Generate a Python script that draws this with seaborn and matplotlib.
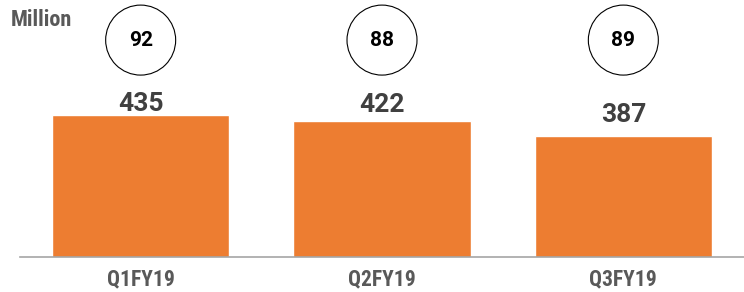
import numpy as np
import pandas as pd
import matplotlib
matplotlib.use('Agg')
import matplotlib.pyplot as plt
import matplotlib.transforms as mtransforms
import seaborn as sns

# ── DATA ──────────────────────────────────────────────
quarters = ['Q1FY19', 'Q2FY19', 'Q3FY19']
revenue = [435, 422, 387]
circle_vals = [92, 88, 89]

sns.set_style('white')
plt.rcParams['font.family'] = ['Roboto Condensed', 'Roboto', 'DejaVu Sans']

df = pd.DataFrame({'quarter': quarters, 'value': revenue})

fig = plt.figure(figsize=(7.44, 2.92), dpi=100)
ax = fig.add_axes([20 / 744, 35 / 292, 724 / 744, 257 / 292])

sns.barplot(data=df, x='quarter', y='value', color='#ED7D31', width=0.735,
            saturation=1, ax=ax)

ax.set_ylim(100, 707.6)
ax.set_xlim(-0.5, 2.5 - 5 / 243)

# value labels above bars
label_pad = [3, 6, 10]
for i, v in enumerate(revenue):
    ax.annotate(str(v), (i, v), xytext=(0, label_pad[i]), textcoords='offset points',
                ha='center', va='baseline', fontsize=19, fontweight='bold',
                color='#404040', family=['Roboto', 'DejaVu Sans'])

# circled numbers on top
trans = mtransforms.blended_transform_factory(ax.transData, ax.transAxes)
ax.scatter(range(len(circle_vals)), [0.844] * len(circle_vals), s=2540,
           facecolors='none', edgecolors='black', linewidths=0.8,
           transform=trans, clip_on=False, zorder=5)
for i, c in enumerate(circle_vals):
    ax.text(i, 0.844, str(c), transform=trans, ha='center', va='center',
            fontsize=15, fontweight='bold', color='black',
            family=['Roboto', 'DejaVu Sans'])

fig.text(11 / 744, 1 - 20 / 292, 'Million', ha='left', va='center', fontsize=16,
         fontweight='bold', color='#595959')

# axis styling
sns.despine(ax=ax, left=True)
ax.spines['bottom'].set_color('#A6A6A6')
ax.spines['bottom'].set_linewidth(1.2)
ax.set_yticks([])
ax.set_xlabel('')
ax.set_ylabel('')
ax.set_xticks(range(len(quarters)))
ax.set_xticklabels(quarters, fontsize=15.5, fontweight='bold', color='#595959')
ax.tick_params(axis='x', which='major', length=0, pad=8)
ax.set_xticks([-0.5, 0.5, 1.5, 2.5], minor=True)
ax.tick_params(axis='x', which='minor', length=5, color='#A6A6A6', width=1)

plt.savefig('out.png', dpi=100)
